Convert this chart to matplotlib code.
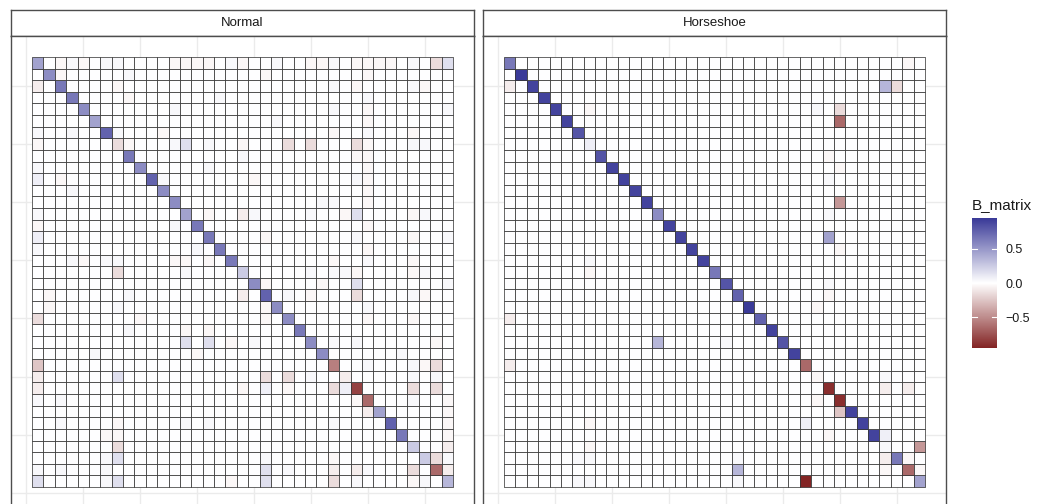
import numpy as np
import matplotlib
matplotlib.use('Agg')
from matplotlib import pyplot as plt
from matplotlib.colors import LinearSegmentedColormap, Normalize


# Posterior mean of B, one string per row (top row first), 37 columns.
# Letters code the cell value: upper case positive, lower case negative.
LEVELS = {'.': 0.0,
          'A': 0.03, 'B': 0.08, 'C': 0.15, 'D': 0.25, 'E': 0.35, 'F': 0.45,
          'G': 0.55, 'H': 0.65, 'I': 0.75, 'J': 0.82, 'K': 0.90, 'L': 0.95,
          'a': -0.03, 'b': -0.08, 'c': -0.15, 'd': -0.25, 'e': -0.35, 'f': -0.45,
          'g': -0.55, 'h': -0.65, 'i': -0.75, 'j': -0.82, 'k': -0.90, 'l': -0.95}

B_NORMAL = [
    'F.aAa .AA.. ..aaa a.Aa. .A..a aA.aa aa.A. cC',
    '.Ga.. ...A. ..... ..... a.... ....a ..... ..',
    'b.H.. ..a.. ..... ..... ..... .A.a. ...Aa ..',
    '...H. ...a. ..... .A... ..... ....A ..... ..',
    '....G ..... ..A.. ..... ..... .A..a ..... .A',
    '..... F.... ..... ..... .A... ....a ..... ..',
    'A..A. .IA.. .a... ..... ..... .a..A ...a. ..',
    'a.... ..ca. ..AC. A..a. ..c.c ...ca ...AA ..',
    '..... ...H. ..... ...A. ..... ...aa ..... ..',
    'A.... ....G ..... A.... ..... ....a ..... ..',
    'B.a.. ..... IA... ....a ..... ...Aa ..... ..',
    '...A. ..... .G... ..... ..... ....a ..... ..',
    '..... ..... ..G.. ..... ..... AA..a ..... ..',
    'A.... ..... ...F. a..bA ....A ..aC. ...aA ..',
    'a.... ..... ..A.H ..... ..... ....a ..... ..',
    'B.... ..... ..... H.... a.... ...A. ...a. .A',
    'A.... ..... ....A .H... ..... ....a ..... ..',
    '...Aa .AA.. ..aa. a.H.. ..... .a..A ...a. ..',
    '..... ..c.. ...A. ...D. ....A .AAa. ...aA ..',
    '..... ..... ..... ....G a.... a..C. ..... .A',
    '.a... ...A. ..... ...b. I.A.a ...c. ...Aa ..',
    '.a... ..A.. ..... ..... aG... ....A ..... ..',
    'c.... ....a ..... ..... a.G.. ....a ...a. ..',
    '..... ...A. ...a. a.... ...H. ..... ..... ..',
    '..... ..... ...C. C.a.A ....G .A.A. ..... a.',
    '..... A.... ....a ..... ..... G.... ..A.. ..',
    'd.... ..... ..... ..... ..... .g..A ...Aa c.',
    'b.... ..C.. ..... ..... c.c.A ..b.. ...A. A.',
    'b.... ..... ..... ...a. B.a.. .cBj. ...c. c.',
    'A.A.. ..... ..... ..... ..... ...ah ...A. .a',
    '..... ..... ..... ..... ..... ....b F.... .a',
    '..A.. ..a.. ...A. A.... ..... .A... .I... .a',
    '..... .aa.. ..... ..... ..... ..... ..H.. .a',
    '..... ..c.. ..... ..... ..... ..... ...D. .b',
    '..... .AC.. ..... ..... A.... .a... ....D cA',
    'A.A.. .A... ..... ..... C.A.. .b.bA ...c. hb',
    'C.... .AC.. ..... ..a.. C.... .c.A. ...aA .E',
]

B_HORSESHOE = [
    'H.... ..... ..... ..... ..... ..... ..... a.',
    '.L... ..... ..... ..... ..... ..... ..... ..',
    'b.K.. ..... ..... ..... ..... ..... ...Ec ..',
    '...K. ..... ..... ..... ..... ..... ..... ..',
    '....K ..a.. ..... ..... ..... ..A.c ..... ..',
    '..... K.... ..... ..... ..... ....h ..... ..',
    '..... .J... ..... ..... ..... ..... ..... ..',
    '..... ..B.. ..... ..... ..... ..... ..... ..',
    '..... ...J. ..... ..... ..... ...a. ..... ..',
    '..... ....K ..... ..... ..... ....a ..... ..',
    '..... ..... K.... ..... ..... ...A. ..... ..',
    '..... ..... .K... ..... ..... ..... ..... ..',
    '..... ..... ..K.. ..... ..... ....f ..... ..',
    '..... ..... ...G. ..... ..... ...A. ..... ..',
    '..... ..... ....K ..... ..... ..... ..... ..',
    '..... ..... ..... K.... ..... ...F. ..... ..',
    '..... ..... ..... .K... ..... ....a ..... ..',
    '..... ..A.. ..... ..K.. ..... ..... ..... ..',
    '..... ..a.. ..... ...H. ..... ..... ..... ..',
    '..... ..... ..... ....J ..... ...A. ..... ..',
    '..... ..... ..... ..... I.... ...a. ..... ..',
    '..... ..... ..... ..... .L... ..a.. ..... ..',
    'b.... ..... ..... ..... ..I.. ..... ..... ..',
    '..... ..... ..... ..... ...K. ..... ..... ..',
    '..... ..... ...E. ....A ....J ..... ..... ..',
    '..... ..... ..... ..... ..... K.... ..... ..',
    'b.... ..... ..... ..... ..... .h... ..... ..',
    '..... ..... ..... ..... ..... ..a.. ...A. ..',
    '..... ..... ..... ..... ..... ...k. ...b. b.',
    '..... ..... ..... ..... ..... ..a.k ..... ..',
    '..... ..... ..... ..... ..... ....d K.... ..',
    '..... ..a.. ..... ..... ..... .B... .K... ..',
    '..... ..... ..... ..... ..... ...a. ..KB. ..',
    '..... ..a.. ..... ..... ..... ..... ...A. .f',
    '..... .AA.. ..... ..... A.... ..... ...bH a.',
    '..... ..... ..... ..... E.... ..... ...a. ha',
    '..... .AA.. ..... ..... A.... .l... ..... .F',
]

PANELS = ['Normal', 'Horseshoe']
COLORBAR_TICKS = [-0.5, 0.0, 0.5]

W, H = 1050, 504
BORDER = '#4d4d4d'


def decode(rows):
    return np.array([[LEVELS[ch] for ch in r.replace(' ', '')] for r in rows])


def px_box(left, top, right, bottom):
    # pixel box -> figure fraction rect
    return [left / W, (H - bottom) / H, (right - left) / W, (bottom - top) / H]


def draw_panel(fig, mat, title, left, cmap, norm):
    n = mat.shape[0]
    right = left + 463

    strip = fig.add_axes(px_box(left, 10, right, 35.5))
    strip.set_xticks([])
    strip.set_yticks([])
    for s in strip.spines.values():
        s.set_color(BORDER)
        s.set_linewidth(1.0)
    strip.text(0.5, 0.5, title, ha='center', va='center', fontsize=9.5,
               family='Liberation Sans', color='#1a1a1a')

    ax = fig.add_axes(px_box(left, 35.5, right, 508.5))
    edges = np.arange(0.5, n + 1)
    # row 0 of the matrix sits at the top of the panel
    mesh = ax.pcolormesh(edges, edges, mat[::-1], cmap=cmap, norm=norm,
                         edgecolors='#2b2b2b', linewidth=0.5, antialiased=True)
    ax.set_xlim(-1.35, 39.35)
    ax.set_ylim(-1.35, 39.35)
    ax.set_xticks(np.arange(0, 36, 5))
    ax.set_yticks(np.arange(0, 36, 5))
    ax.tick_params(length=0, labelbottom=False, labelleft=False)
    ax.grid(True, color='#ebebeb', linewidth=1.0)
    ax.set_axisbelow(True)
    for s in ax.spines.values():
        s.set_color(BORDER)
        s.set_linewidth(1.0)
    return mesh


def main():
    normal = decode(B_NORMAL)
    horseshoe = decode(B_HORSESHOE)

    lim = max(np.abs(normal).max(), np.abs(horseshoe).max())
    cmap = LinearSegmentedColormap.from_list('b_matrix', ['#832424', '#ffffff', '#3a3a98'])
    norm = Normalize(vmin=-lim, vmax=lim)

    fig = plt.figure(figsize=(W / 100, H / 100), dpi=100)
    mesh = None
    for mat, title, left in zip([normal, horseshoe], PANELS, [11, 483]):
        mesh = draw_panel(fig, mat, title, left, cmap, norm)

    cax = fig.add_axes(px_box(972, 218, 997, 348))
    cb = fig.colorbar(mesh, cax=cax)
    cb.outline.set_visible(False)
    cb.set_ticks(COLORBAR_TICKS)
    cb.set_ticklabels(['\u22120.5', '0.0', '0.5'])
    cax.tick_params(length=0, pad=6, labelsize=9, colors='#1a1a1a')
    for lab in cax.get_yticklabels():
        lab.set_family('Liberation Sans')
    for t in COLORBAR_TICKS:
        cax.plot([0, 0.2], [t, t], color='white', linewidth=0.8, transform=cax.get_yaxis_transform())
        cax.plot([0.8, 1], [t, t], color='white', linewidth=0.8, transform=cax.get_yaxis_transform())

    fig.text(972 / W, 1 - 205 / H, 'B_matrix', ha='left', va='center', fontsize=11,
             family='Liberation Sans', color='#1a1a1a')

    fig.savefig('out.png', dpi=100)


if __name__ == '__main__':
    main()
